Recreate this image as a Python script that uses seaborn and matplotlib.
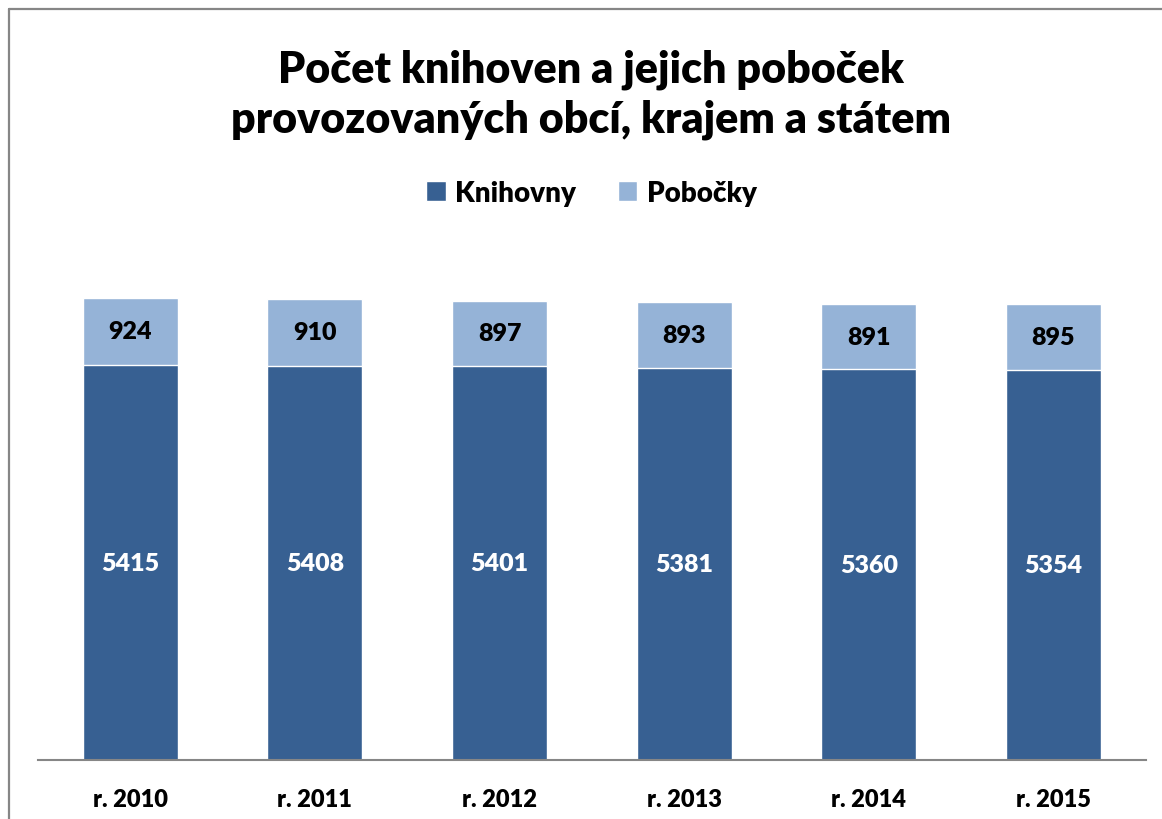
import numpy as np
import pandas as pd
import matplotlib.pyplot as plt
import seaborn as sns
from matplotlib.lines import Line2D
from matplotlib.patches import Patch

# data
years = ['r. 2010', 'r. 2011', 'r. 2012', 'r. 2013', 'r. 2014', 'r. 2015']
knihovny = [5415, 5408, 5401, 5381, 5360, 5354]
pobocky = [924, 910, 897, 893, 891, 895]

dark = '#376092'
light = '#95B3D7'
grey = '#868686'

sns.set_theme(style='white')
plt.rcParams['font.family'] = ['Lato', 'DejaVu Sans']
plt.rcParams['text.color'] = 'black'
plt.rcParams['xtick.color'] = 'black'
wt = 'heavy'

df = pd.DataFrame({'Rok': years, 'Knihovny': knihovny, 'Pobocky': pobocky})
df['Celkem'] = df['Knihovny'] + df['Pobocky']

fig = plt.figure(figsize=(11.62, 8.2), dpi=100)
ax = fig.add_axes([0.0327, 0.0720, 0.9533, 0.6225])

# stacked bars: total first (light), then libraries on top (dark)
sns.barplot(data=df, x='Rok', y='Celkem', color=light, width=0.515, saturation=1, ax=ax)
sns.barplot(data=df, x='Rok', y='Knihovny', color=dark, width=0.515, saturation=1, ax=ax)

for i, row in df.iterrows():
    ax.text(i, row['Knihovny'] / 2, str(row['Knihovny']), ha='center', va='center',
            color='white', fontsize=18, fontweight=wt)
    ax.text(i, row['Knihovny'] + row['Pobocky'] / 2, str(row['Pobocky']), ha='center', va='center',
            color='black', fontsize=18, fontweight=wt)

ax.set_xlim(-0.5, 5.5)
ax.set_ylim(0, 7000)
ax.set_xlabel('')
ax.set_ylabel('')
ax.set_yticks([])
ax.tick_params(axis='x', length=0, labelsize=17, pad=20)
for lbl in ax.get_xticklabels():
    lbl.set_fontweight(wt)
for s in ['top', 'right', 'left']:
    ax.spines[s].set_visible(False)
ax.spines['bottom'].set_color(grey)
ax.spines['bottom'].set_linewidth(1.5)

fig.text(0.509, 0.884, 'Počet knihoven a jejich poboček\nprovozovaných obcí, krajem a státem',
         ha='center', va='center', fontsize=31, fontweight=wt, linespacing=1.28)

handles = [Patch(facecolor=dark, label='Knihovny'), Patch(facecolor=light, label='Pobočky')]
fig.legend(handles=handles, loc='center', bbox_to_anchor=(0.509, 0.764), ncol=2, frameon=False,
           handlelength=0.7, handleheight=0.7, handletextpad=0.35, columnspacing=1.5,
           prop={'size': 20, 'weight': wt})

# chart area border (left and top visible)
fig.add_artist(Line2D([9 / 1162, 9 / 1162], [0, 1 - 10 / 820], color=grey, lw=1.6, transform=fig.transFigure))
fig.add_artist(Line2D([9 / 1162, 1], [1 - 10 / 820, 1 - 10 / 820], color=grey, lw=1.6, transform=fig.transFigure))

fig.savefig('out.png', dpi=100)
